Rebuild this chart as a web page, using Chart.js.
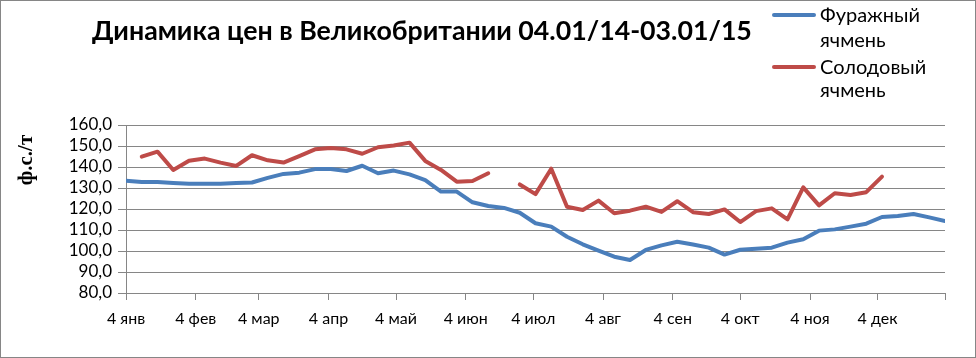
<!DOCTYPE html>
<html>
<head>
<meta charset="utf-8">
<script src="https://cdn.jsdelivr.net/npm/chart.js@4"></script>
<style>
html,body{margin:0;padding:0;background:#fff;}
canvas{display:block;}
</style>
</head>
<body>
<canvas id="c" width="976" height="358"></canvas>
<script>
const titleText = "Динамика цен в Великобритании 04.01/14-03.01/15";
const yTitle = "ф.с./т";
const seriesNames = ["Фуражный ячмень", "Солодовый ячмень"];
const seriesColors = ["#4A7EBB", "#BE4B48"];

const dates = [
 "2014-01-04","2014-01-11","2014-01-18","2014-01-25",
 "2014-02-01","2014-02-08","2014-02-15","2014-02-22",
 "2014-03-01","2014-03-08","2014-03-15","2014-03-22","2014-03-29",
 "2014-04-05","2014-04-12","2014-04-19","2014-04-26",
 "2014-05-03","2014-05-10","2014-05-17","2014-05-24","2014-05-31",
 "2014-06-07","2014-06-14","2014-06-21","2014-06-28",
 "2014-07-05","2014-07-12","2014-07-19","2014-07-26",
 "2014-08-02","2014-08-09","2014-08-16","2014-08-23","2014-08-30",
 "2014-09-06","2014-09-13","2014-09-20","2014-09-27",
 "2014-10-04","2014-10-11","2014-10-18","2014-10-25",
 "2014-11-01","2014-11-08","2014-11-15","2014-11-22","2014-11-29",
 "2014-12-06","2014-12-13","2014-12-20","2014-12-27",
 "2015-01-03"
];

const feedBarley = [133.5,132.9,132.9,132.4,132.0,132.0,132.0,132.4,132.6,134.8,
 136.7,137.3,139.0,139.0,138.1,140.6,137.0,138.3,136.5,133.8,
 128.3,128.3,123.2,121.4,120.5,118.2,113.2,111.6,106.8,103.2,
 100.2,97.3,95.7,100.5,102.7,104.4,103.1,101.6,98.3,100.6,
 101.1,101.6,104.0,105.6,109.7,110.3,111.6,113.0,116.2,116.7,
 117.6,116.0,114.3];

const maltingBarley = [null,144.9,147.3,138.6,143.0,144.0,142.1,140.5,145.6,143.2,
 142.1,145.2,148.4,149.0,148.4,146.3,149.4,150.2,151.6,142.9,
 138.6,133.0,133.3,137.0,null,131.7,127.1,139.2,121.1,119.5,
 124.0,118.0,119.2,121.1,118.6,123.7,118.5,117.6,119.8,113.8,
 119.0,120.3,115.1,130.3,121.7,127.5,126.7,128.0,135.4,null,
 null,null,null];

const tickDates = ["2014-01-04","2014-02-04","2014-03-04","2014-04-04","2014-05-04","2014-06-04",
 "2014-07-04","2014-08-04","2014-09-04","2014-10-04","2014-11-04","2014-12-04","2015-01-03"];
const tickLabels = ["4 янв","4 фев","4 мар","4 апр","4 май","4 июн","4 июл","4 авг","4 сен","4 окт","4 ноя","4 дек",""];

const yMin = 80, yMax = 160, yStep = 10;

const t0 = Date.parse(dates[0] + "T00:00:00Z");
const dayOf = d => Math.round((Date.parse(d + "T00:00:00Z") - t0) / 86400000);
const xDays = dates.map(dayOf);
const tickDays = tickDates.map(dayOf);

const toPts = arr => arr.map((v, i) => ({x: xDays[i], y: v}));

const decor = {
  id: 'decor',
  afterDraw(chart) {
    const ctx = chart.ctx;
    ctx.save();
    ctx.strokeStyle = '#868686';
    ctx.lineWidth = 1;
    ctx.strokeRect(0.5, 0.5, 975, 357);
    ctx.fillStyle = '#000';
    ctx.textAlign = 'left';
    ctx.textBaseline = 'alphabetic';
    let fs = 24;
    ctx.font = 'bold ' + fs + 'px Lato';
    const w = ctx.measureText(titleText).width;
    fs = fs * 660 / w;
    ctx.font = 'bold ' + fs.toFixed(2) + 'px Lato';
    ctx.fillText(titleText, 92, 40);
    ctx.save();
    ctx.translate(27, 160);
    ctx.rotate(-Math.PI / 2);
    ctx.font = 'bold 21px "Liberation Serif"';
    ctx.textAlign = 'center';
    ctx.textBaseline = 'middle';
    ctx.fillText(yTitle, 0, 0);
    ctx.restore();
    const ys = [15, 67];
    const base = [[22, 47], [74, 97]];
    ctx.font = '20px Lato';
    ctx.textAlign = 'left';
    seriesNames.forEach((n, i) => {
      ctx.strokeStyle = seriesColors[i];
      ctx.lineWidth = 4;
      ctx.lineCap = 'round';
      ctx.beginPath();
      ctx.moveTo(774, ys[i]);
      ctx.lineTo(814, ys[i]);
      ctx.stroke();
      const parts = n.split(' ');
      ctx.fillStyle = '#000';
      ctx.fillText(parts[0], 820, base[i][0]);
      ctx.fillText(parts[1], 820, base[i][1]);
    });
    ctx.restore();
  }
};

new Chart(document.getElementById('c'), {
  type: 'line',
  data: {
    datasets: [
      {label: seriesNames[0], data: toPts(feedBarley), borderColor: seriesColors[0], backgroundColor: seriesColors[0],
       borderWidth: 4, pointRadius: 0, tension: 0, spanGaps: false, borderJoinStyle: 'round', borderCapStyle: 'round'},
      {label: seriesNames[1], data: toPts(maltingBarley), borderColor: seriesColors[1], backgroundColor: seriesColors[1],
       borderWidth: 4, pointRadius: 0, tension: 0, spanGaps: false, borderJoinStyle: 'round', borderCapStyle: 'round'}
    ]
  },
  options: {
    responsive: false,
    animation: false,
    devicePixelRatio: 1,
    layout: {padding: {top: 125, right: 31, left: 0, bottom: 0}},
    plugins: {legend: {display: false}, title: {display: false}, tooltip: {enabled: false}},
    scales: {
      x: {
        type: 'linear',
        min: 0,
        max: tickDays[tickDays.length - 1],
        afterFit(s) { s.height = 65; },
        afterBuildTicks(s) { s.ticks = tickDays.map(v => ({value: v})); },
        ticks: {
          autoSkip: false, maxRotation: 0, minRotation: 0, padding: 9,
          color: '#000', font: {family: 'Lato', size: 16},
          callback: (v, i) => tickLabels[i]
        },
        grid: {drawOnChartArea: false, drawTicks: true, tickLength: 7, color: '#868686', lineWidth: 1},
        border: {display: true, color: '#868686', width: 1}
      },
      y: {
        min: yMin, max: yMax,
        afterFit(s) { s.width = 126; },
        ticks: {
          stepSize: yStep, autoSkip: false, padding: 6, color: '#000', font: {family: 'Lato', size: 17},
          callback: v => v.toFixed(1).replace('.', ',')
        },
        grid: {drawTicks: true, tickLength: 8, color: '#868686', lineWidth: 1},
        border: {display: true, color: '#868686', width: 1}
      }
    }
  },
  plugins: [decor]
});
</script>
</body>
</html>
